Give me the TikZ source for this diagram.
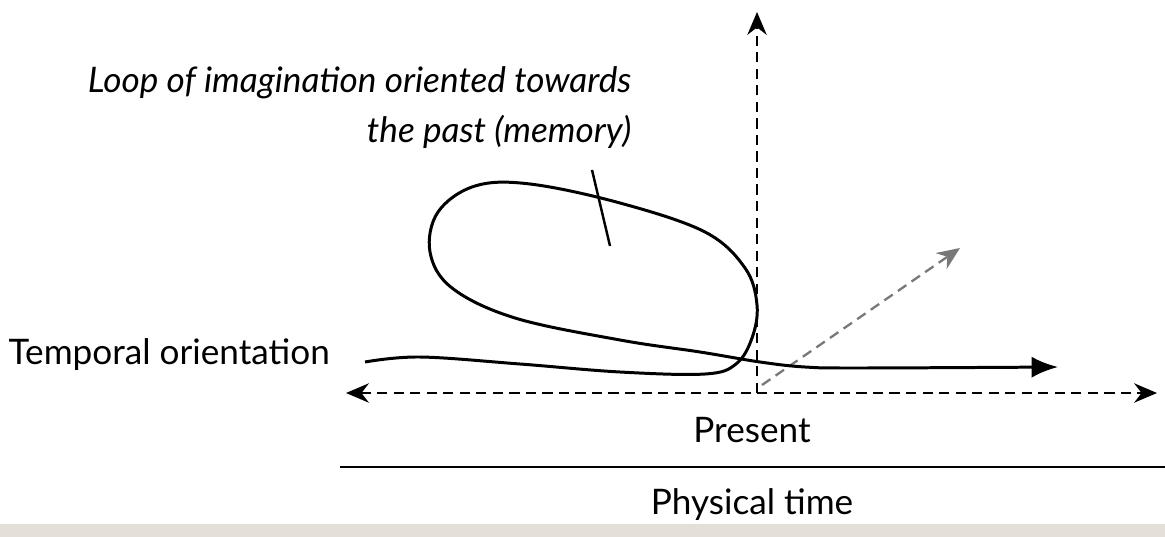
\documentclass[tikz,border=0pt]{standalone}
\usepackage{fontspec}
\setmainfont{Lato}
\usetikzlibrary{arrows.meta,positioning}
\definecolor{bandgrey}{RGB}{228,224,216}
\definecolor{diaggrey}{RGB}{120,120,120}
\tikzset{
  axisline/.style={dash pattern=on 2.9pt off 1.8pt, line width=0.65pt},
  tiptri/.style={-{Stealth[length=6.5pt,width=5.5pt]}},
  label/.style={font=\fontsize{10pt}{14.2pt}\selectfont, inner sep=0pt}
}

\begin{document}
\begin{tikzpicture}[x=0.01cm, y=-0.01cm]
  \useasboundingbox (0,0) rectangle (1165,537);
  % --- background band at the bottom ---
  \fill[white] (0,0) rectangle (1165,524);
  \fill[bandgrey] (0,524) rectangle (1165,537);

  % --- axes (dashed) ---
  \coordinate (now) at (757,393);
  \coordinate (up) at (757,12);
  \coordinate (left) at (346,393);
  \coordinate (right) at (1157,393);
  \coordinate (diagfrom) at (762,385);
  \coordinate (diagto) at (960,248);
  \draw[axisline, tiptri] (now) -- (up);
  \draw[axisline, {Stealth[length=6.5pt,width=5.5pt]}-{Stealth[length=6.5pt,width=5.5pt]}] (left) -- (right);
  \draw[axisline, diaggrey, tiptri] (diagfrom) -- (diagto);

  % --- temporal orientation with its loop ---
  \draw[line width=0.85pt, -{Latex[length=7.5pt,width=6pt]}]
    plot[smooth, tension=0.6] coordinates {
      (365,362) (420,357) (520,364) (620,372) (705,374) (736,364)
      (752,338) (757,305) (745,268) (705,232) (620,203) (530,184)
      (475,186) (438,212) (430,252) (452,288) (515,318) (620,340)
      (700,352) (760,362) (805,367) (860,368) (1058,367)};
  \coordinate (tickA) at (592,170);
  \coordinate (tickB) at (610,246);
  \draw[line width=0.7pt] (tickA) -- (tickB);

  % --- labels ---
  \node[label, font=\fontsize{10pt}{14.2pt}\selectfont\itshape, align=right, anchor=north east]
    (loop) at (632,66) {Loop of imagination oriented towards\\the past (memory)};
  \node[label, anchor=west] (orient) at (8,355) {Temporal orientation};
  \node[label] (present) at (752,430) {Present};
  \node[label] (physical) at (752,505) {Physical time};

  % --- physical time rule ---
  \coordinate (ruleL) at (340,467);
  \coordinate (ruleR) at (1165,467);
  \draw[line width=0.7pt] (ruleL) -- (ruleR);
\end{tikzpicture}
\end{document}
